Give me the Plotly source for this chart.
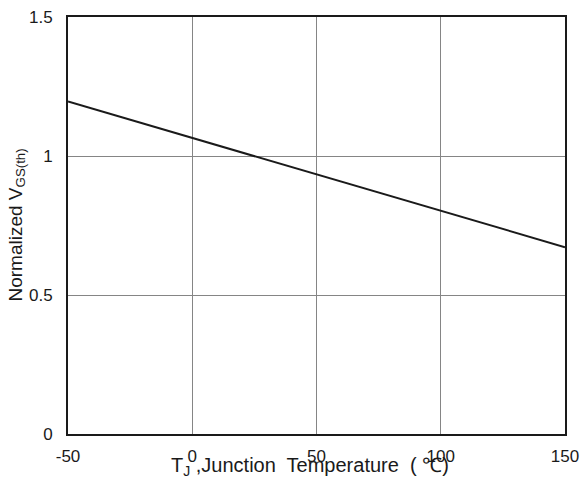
import plotly.graph_objects as go

temps = [-50, 150]
vgs_norm = [1.196, 0.672]
x_ticks = [-50, 0, 50, 100, 150]
y_ticks = [0, 0.5, 1, 1.5]
y_tick_labels = ["0", "0.5", "1", "1.5"]

fig = go.Figure()
fig.add_trace(go.Scatter(x=temps, y=vgs_norm, mode="lines",
                         line=dict(color="#1a1a1a", width=2), showlegend=False))

FAM = "Liberation Sans, Arial, sans-serif"
tick_font = dict(family=FAM, size=17, color="#1a1a1a")
title_font = dict(family=FAM, size=19, color="#1a1a1a")
xtitle_font = dict(family=FAM, size=20, color="#1a1a1a")

fig.update_layout(
    width=581, height=482,
    margin=dict(l=68, r=16, t=17, b=48),
    paper_bgcolor="white", plot_bgcolor="white",
    font=tick_font,
    xaxis=dict(range=[-50, 150], tickvals=x_ticks, ticktext=[str(v) for v in x_ticks],
               showgrid=True, gridcolor="#858585", gridwidth=1,
               showline=True, linecolor="#1a1a1a", linewidth=2, mirror=True,
               ticks="", zeroline=False, tickfont=tick_font, automargin=False,
               ticklabelstandoff=6),
    yaxis=dict(range=[0, 1.5], tickvals=y_ticks, ticktext=y_tick_labels,
               showgrid=True, gridcolor="#858585", gridwidth=1,
               showline=True, linecolor="#1a1a1a", linewidth=2, mirror=True,
               ticks="", zeroline=False, tickfont=tick_font, automargin=False,
               ticklabelstandoff=10),
    annotations=[
        dict(text="T<sub>J</sub> ,Junction  Temperature  ( ℃)", xref="paper", yref="paper",
             x=0.487, y=-0.077, xanchor="center", yanchor="middle", showarrow=False,
             font=xtitle_font),
        dict(text="Normalized V<sub>GS(th)</sub>", xref="paper", yref="paper",
             x=-0.1046, y=0.5, xanchor="center", yanchor="middle", textangle=-90,
             showarrow=False, font=title_font),
    ],
)

fig.write_html("out.html", config={"displayModeBar": False},
               post_script="document.body.style.margin='0';document.body.style.overflow='hidden';")
